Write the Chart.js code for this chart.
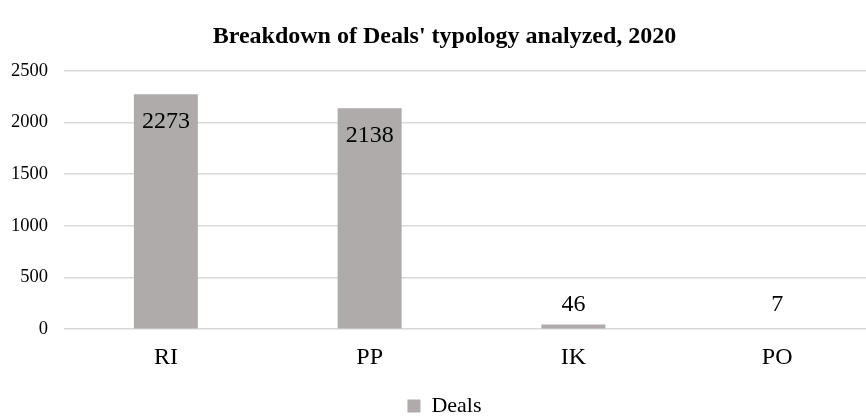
<!DOCTYPE html>
<html>
<head>
<meta charset="utf-8">
<script src="https://cdn.jsdelivr.net/npm/chart.js@4"></script>
<style>
  html, body { margin: 0; padding: 0; background: #fff; overflow: hidden; }
  #wrap { width: 900px; height: 416px; position: relative; }
</style>
</head>
<body>
<div id="wrap"><canvas id="c"></canvas></div>
<script>
const categories = ['RI', 'PP', 'IK', 'PO'];
const deals = [2273, 2138, 46, 7];
const yTicks = [0, 500, 1000, 1500, 2000, 2500];

const FONT = '"Liberation Serif", "Times New Roman", serif';

// Value labels: inside the top of tall bars, just above short ones
const valueLabels = {
  id: 'valueLabels',
  afterDatasetsDraw(chart) {
    const ctx = chart.ctx;
    const meta = chart.getDatasetMeta(0);
    const data = chart.data.datasets[0].data;
    ctx.save();
    ctx.font = '24px ' + FONT;
    ctx.fillStyle = '#000';
    ctx.textAlign = 'center';
    ctx.textBaseline = 'middle';
    meta.data.forEach((bar, i) => {
      const tall = (bar.base - bar.y) > 60;
      const y = tall ? bar.y + 27 : bar.base - 24;
      ctx.fillText(String(data[i]), bar.x, y);
    });
    ctx.restore();
  }
};

new Chart(document.getElementById('c'), {
  type: 'bar',
  data: {
    labels: categories,
    datasets: [{
      label: 'Deals',
      data: deals,
      backgroundColor: '#AEABAA',
      borderWidth: 0,
      categoryPercentage: 1,
      barPercentage: 0.314
    }]
  },
  options: {
    responsive: true,
    maintainAspectRatio: false,
    animation: false,
    layout: { padding: { left: 10, right: 21, top: 0, bottom: -11 } },
    plugins: {
      title: {
        display: true,
        text: "Breakdown of Deals' typology analyzed, 2020",
        color: '#000',
        font: { family: FONT, size: 24, weight: 'bold' },
        padding: { top: 22, bottom: 20 }
      },
      legend: {
        position: 'bottom',
        labels: {
          color: '#000',
          font: { family: FONT, size: 22 },
          boxWidth: 13,
          boxHeight: 13,
          padding: 2
        }
      },
      tooltip: { enabled: false }
    },
    scales: {
      x: {
        afterFit(axis) { axis.height += 15; },
        grid: { display: false },
        border: { display: false },
        ticks: { color: '#000', font: { family: FONT, size: 24 }, padding: 6 }
      },
      y: {
        min: 0,
        max: 2500,
        afterBuildTicks(axis) { axis.ticks = yTicks.map(v => ({ value: v })); },
        afterFit(axis) { axis.width = 54; },
        grid: { color: '#D9D9D9', lineWidth: 1.5, drawTicks: false },
        border: { display: false },
        ticks: {
          color: '#000',
          font: { family: FONT, size: 18.5 },
          padding: 16,
          callback: v => String(v)
        }
      }
    }
  },
  plugins: [valueLabels]
});
</script>
</body>
</html>
